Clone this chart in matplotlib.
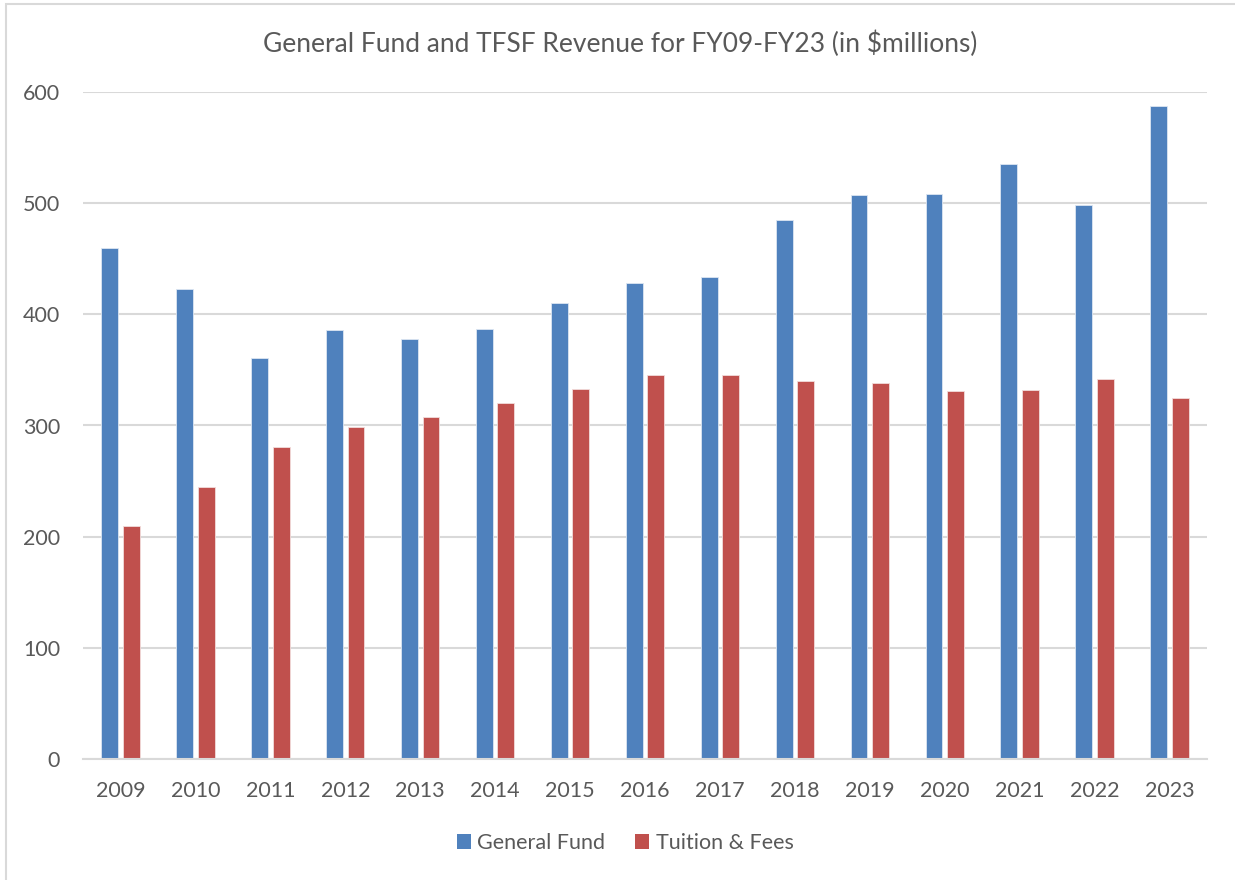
import matplotlib
matplotlib.use("Agg")
import matplotlib.pyplot as plt
import numpy as np
from matplotlib.patches import Rectangle, Patch

plt.rcParams['font.family'] = ['Lato', 'DejaVu Sans']

years = ["2009", "2010", "2011", "2012", "2013", "2014", "2015", "2016",
         "2017", "2018", "2019", "2020", "2021", "2022", "2023"]
general_fund = [460, 423, 361, 386, 378, 387, 410, 428, 434, 485, 507, 508, 535, 498, 587]
tuition_fees = [210, 245, 281, 299, 308, 320, 333, 345, 345, 340, 338, 331, 332, 342, 325]
title = "General Fund and TFSF Revenue for FY09-FY23 (in $millions)"
yticks = [0, 100, 200, 300, 400, 500, 600]

blue = "#4F81BD"
red = "#C0504D"
txt = "#595959"
grid = "#D9D9D9"

W, H = 1235, 880
fig = plt.figure(figsize=(W / 100, H / 100), dpi=100)
ax = fig.add_axes([83 / W, 1 - 759 / H, (1207 - 83) / W, (759 - 92) / H])

x = np.arange(len(years))
bw = 0.225
off = 0.144
ax.bar(x - off, general_fund, width=bw, color=blue, edgecolor="#DCE6F2", linewidth=0.6, zorder=3)
ax.bar(x + off, tuition_fees, width=bw, color=red, edgecolor="#F2DCDB", linewidth=0.6, zorder=3)

ax.set_xlim(-0.5, len(years) - 0.5)
ax.set_ylim(0, 600)
ax.set_yticks(yticks)
ax.set_yticklabels([str(v) for v in yticks])
ax.set_xticks(x)
ax.set_xticklabels(years)
ax.tick_params(axis='both', length=0, labelsize=15.5, colors=txt)
ax.tick_params(axis='y', pad=16.5)
ax.tick_params(axis='x', pad=16)
ax.yaxis.grid(True, color=grid, linewidth=1.5, zorder=0)
ax.set_axisbelow(True)
for s in ["top", "right", "left"]:
    ax.spines[s].set_visible(False)
ax.spines["bottom"].set_color(grid)
ax.spines["bottom"].set_linewidth(1.5)
ax.spines["bottom"].set_zorder(4)

fig.text((262 + 978) / 2 / W, 1 - 44 / H, title, ha="center", va="center",
         fontsize=19, color=txt)

handles = [Patch(facecolor=blue, label="General Fund"), Patch(facecolor=red, label="Tuition & Fees")]
leg = fig.legend(handles=handles, loc="center", bbox_to_anchor=(625 / W, 1 - 843 / H),
                 ncol=2, frameon=False, fontsize=15.5, handlelength=0.65, handleheight=0.65,
                 handletextpad=0.3, columnspacing=1.4)
for t in leg.get_texts():
    t.set_color(txt)

fig.patches.append(Rectangle((6 / W, -0.1), 1.2, 1 - 4 / H + 0.1, transform=fig.transFigure,
                             fill=False, edgecolor=grid, linewidth=1.5))

fig.savefig("out.png", dpi=100, facecolor="white")
